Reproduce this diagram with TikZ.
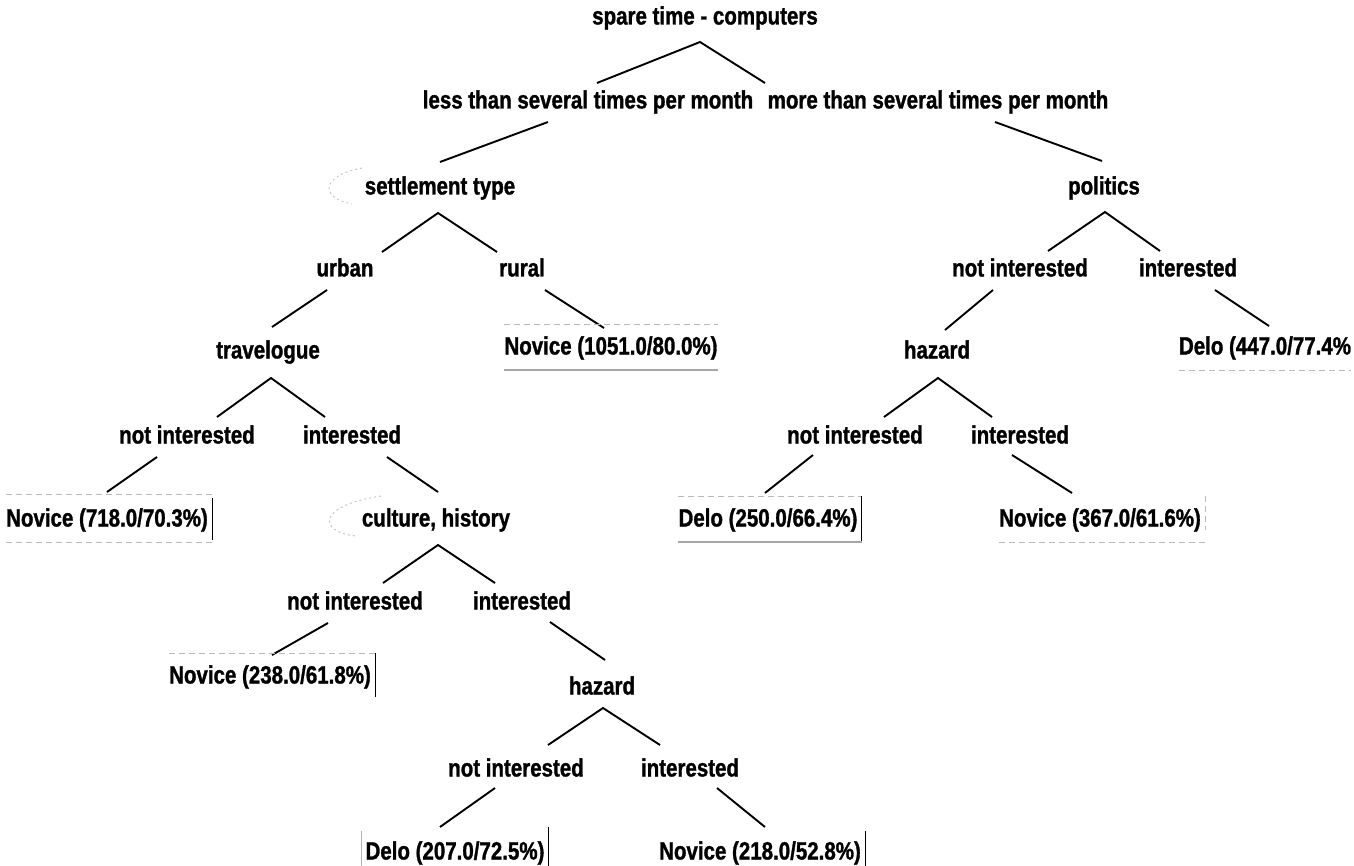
\documentclass[tikz,border=0pt]{standalone}
\usepackage{fontspec}
\setmainfont{Liberation Sans}[FakeStretch=0.82,BoldFeatures={FakeBold=1.2}]
\usetikzlibrary{calc}
\begin{document}
\begin{tikzpicture}[x=0.5pt,y=-0.5pt,
  tx/.style={inner sep=0pt,font=\fontsize{12.5}{14}\selectfont\bfseries,text height=9pt,text depth=2.5pt},
  ln/.style={line width=0.95pt,black},
  frag/.style={draw=gray!55,line width=0.4pt,dash pattern=on 3pt off 2pt},
  smudge/.style={draw=gray!45,line width=0.5pt,dash pattern=on 1pt off 1.5pt},
  bar/.style={draw=black,line width=0.6pt}]
\useasboundingbox (0,0) rectangle (1354,866);
% nodes
\node[tx] (root) at (705,18) {spare time - computers};
\node[tx] (less) at (588,102) {less than several times per month};
\node[tx] (more) at (938,102) {more than several times per month};
\node[tx] (settle) at (440,188) {settlement type};
\node[tx] (pol) at (1104,188) {politics};
\node[tx] (urban) at (345,270) {urban};
\node[tx] (rural) at (522,270) {rural};
\node[tx] (poNI) at (1020,270) {not interested};
\node[tx] (poI) at (1188,270) {interested};
\node[tx] (leafA) at (611,348) {Novice (1051.0/80.0\%)};
\node[tx] (travel) at (268,352) {travelogue};
\node[tx] (hazR) at (937,352) {hazard};
\node[tx] (leafB) at (1265,348) {Delo (447.0/77.4\%};
\node[tx] (trNI) at (187,437) {not interested};
\node[tx] (trI) at (352,437) {interested};
\node[tx] (hrNI) at (855,437) {not interested};
\node[tx] (hrI) at (1020,437) {interested};
\node[tx] (leafC) at (107,520) {Novice (718.0/70.3\%)};
\node[tx] (culture) at (436,520) {culture, history};
\node[tx] (leafD) at (768,520) {Delo (250.0/66.4\%)};
\node[tx] (leafE) at (1100,520) {Novice (367.0/61.6\%)};
\node[tx] (cuNI) at (355,603) {not interested};
\node[tx] (cuI) at (522,603) {interested};
\node[tx] (leafF) at (270,677) {Novice (238.0/61.8\%)};
\node[tx] (hazL) at (602,688) {hazard};
\node[tx] (hzNI) at (516,770) {not interested};
\node[tx] (hzI) at (690,770) {interested};
\node[tx] (leafG) at (455,853) {Delo (207.0/72.5\%)};
\node[tx] (leafH) at (760,853) {Novice (218.0/52.8\%)};
% splits
\draw[ln] ($(less)+(9,-19)$) -- ($(root)+(-5,24)$) -- ($(more)+(-173,-19)$);
\draw[ln] ($(urban)+(37,-18)$) -- ($(settle)+(-2,25)$) -- ($(rural)+(-25,-18)$);
\draw[ln] ($(poNI)+(28,-19)$) -- ($(pol)+(1,24)$) -- ($(poI)+(-28,-19)$);
\draw[ln] ($(trNI)+(30,-20)$) -- ($(travel)+(3,26)$) -- ($(trI)+(-27,-20)$);
\draw[ln] ($(hrNI)+(29,-20)$) -- ($(hazR)+(1,26)$) -- ($(hrI)+(-28,-20)$);
\draw[ln] ($(cuNI)+(28,-20)$) -- ($(culture)+(2,25)$) -- ($(cuI)+(-27,-20)$);
\draw[ln] ($(hzNI)+(32,-25)$) -- ($(hazL)+(1,20)$) -- ($(hzI)+(-30,-25)$);
% links
\draw[ln] ($(less)+(-40,20)$) -- ($(settle)+(0,-26)$);
\draw[ln] ($(more)+(57,20)$) -- ($(pol)+(-2,-27)$);
\draw[ln] ($(urban)+(-18,20)$) -- ($(travel)+(4,-25)$);
\draw[ln] ($(rural)+(23,20)$) -- ($(leafA)+(-7,-20)$);
\draw[ln] ($(poNI)+(-27,20)$) -- ($(hazR)+(8,-22)$);
\draw[ln] ($(poI)+(27,20)$) -- ($(leafB)+(4,-22)$);
\draw[ln] ($(trNI)+(-30,20)$) -- ($(leafC)+(0,-28)$);
\draw[ln] ($(trI)+(35,20)$) -- ($(culture)+(2,-28)$);
\draw[ln] ($(hrNI)+(-42,18)$) -- ($(leafD)+(-3,-27)$);
\draw[ln] ($(hrI)+(-8,18)$) -- ($(leafE)+(-28,-27)$);
\draw[ln] ($(cuNI)+(-27,20)$) -- ($(leafF)+(2,-22)$);
\draw[ln] ($(cuI)+(28,19)$) -- ($(hazL)+(3,-28)$);
\draw[ln] ($(hzNI)+(-21,18)$) -- ($(leafG)+(-15,-26)$);
\draw[ln] ($(hzI)+(27,18)$) -- ($(leafH)+(5,-26)$);
% leaf box fragments
\draw[frag] ($(leafC.north west)+(0,-14)$) -- ($(leafC.north east)+(4,-14)$);
\draw[bar] ($(leafC.north east)+(4,-10)$) -- ($(leafC.south east)+(4,8)$);
\draw[frag] ($(leafC.south west)+(0,10)$) -- ($(leafC.south east)+(4,10)$);
\draw[frag] ($(leafA.north west)+(0,-12)$) -- ($(leafA.north east)+(0,-12)$);
\draw[bar,draw=gray!70] ($(leafA.south west)+(0,10)$) -- ($(leafA.south east)+(0,10)$);
\draw[frag] ($(leafB.south west)+(0,10)$) -- ($(leafB.south east)+(0,10)$);
\draw[frag] ($(leafD.north west)+(0,-12)$) -- ($(leafD.north east)+(4,-12)$);
\draw[bar] ($(leafD.north east)+(4,-12)$) -- ($(leafD.south east)+(4,10)$);
\draw[bar,draw=gray!70] ($(leafD.south west)+(0,10)$) -- ($(leafD.south east)+(4,10)$);
\draw[frag] ($(leafE.north east)+(4,-12)$) -- ($(leafE.south east)+(4,-2)$);
\draw[frag] ($(leafE.south west)+(0,10)$) -- ($(leafE.south east)+(4,10)$);
\draw[frag] ($(leafF.north west)+(0,-12)$) -- ($(leafF.north east)+(4,-12)$);
\draw[bar] ($(leafF.north east)+(4,-12)$) -- ($(leafF.south east)+(4,8)$);
\draw[bar,draw=gray!60] ($(leafG.north west)+(-4,-10)$) -- ($(leafG.south west)+(-4,8)$);
\draw[bar] ($(leafG.north east)+(4,-14)$) -- ($(leafG.south east)+(4,8)$);
\draw[bar] ($(leafH.north east)+(4,-10)$) -- ($(leafH.south east)+(4,8)$);
% faint scan smudges
\draw[smudge] ($(settle)+(-78,-20)$) .. controls ($(settle)+(-120,-12)$) and ($(settle)+(-120,10)$) .. ($(settle)+(-88,16)$);
\draw[smudge] ($(culture)+(-55,-24)$) .. controls ($(culture)+(-120,-14)$) and ($(culture)+(-118,12)$) .. ($(culture)+(-80,16)$);
\end{tikzpicture}
\end{document}
